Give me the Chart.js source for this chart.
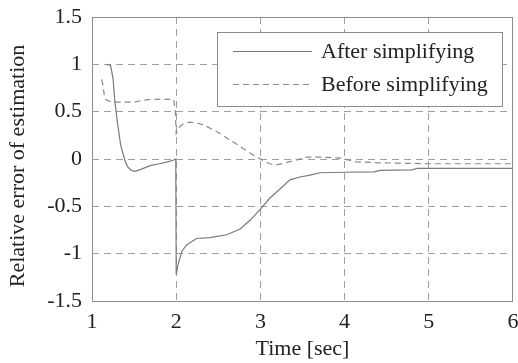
<!DOCTYPE html>
<html>
<head>
<meta charset="utf-8">
<script src="https://cdn.jsdelivr.net/npm/chart.js@4"></script>
<style>
  html, body { margin: 0; padding: 0; background: #fff; }
  #box { width: 518px; height: 363px; }
</style>
</head>
<body>
<div id="box"><canvas id="c"></canvas></div>
<script>
// values
const afterT = [1.17, 1.22, 1.25, 1.27, 1.30, 1.34, 1.37, 1.40, 1.43, 1.47, 1.51, 1.58, 1.69, 1.80, 1.90, 1.97, 1.995,
  2.0, 2.02, 2.065, 2.12, 2.24, 2.40, 2.60, 2.76, 2.88, 2.99, 3.11, 3.23, 3.35, 3.47, 3.59, 3.71, 4.0, 4.35, 4.42, 4.8, 4.86, 6.0];
const afterV = [1.0, 0.99, 0.85, 0.62, 0.40, 0.15, 0.05, -0.04, -0.09, -0.12, -0.13, -0.11, -0.07, -0.05, -0.03, -0.01, 0.0,
  -1.22, -1.12, -0.98, -0.91, -0.84, -0.83, -0.80, -0.74, -0.645, -0.54, -0.415, -0.32, -0.22, -0.19, -0.17, -0.145, -0.14, -0.135, -0.12, -0.115, -0.1, -0.1];

const beforeT = [1.115, 1.13, 1.145, 1.16, 1.2, 1.3, 1.5, 1.6, 1.7, 1.97, 1.99, 2.0, 2.03, 2.08, 2.16, 2.25, 2.35, 2.5, 2.64,
  2.78, 2.92, 3.0, 3.11, 3.2, 3.3, 3.43, 3.55, 3.7, 3.95, 4.14, 4.4, 5.0, 6.0];
const beforeV = [0.84, 0.78, 0.68, 0.63, 0.61, 0.6, 0.6, 0.62, 0.63, 0.63, 0.5, 0.27, 0.33, 0.37, 0.39, 0.38, 0.35, 0.28, 0.2,
  0.12, 0.04, 0.0, -0.05, -0.06, -0.04, -0.01, 0.02, 0.02, 0.01, -0.03, -0.04, -0.05, -0.05];

const seriesNames = ["After simplifying", "Before simplifying"];
const xTicks = [1, 2, 3, 4, 5, 6];
const yTicks = [-1.5, -1, -0.5, 0, 0.5, 1, 1.5];
const yTitle = "Relative error of estimation";

const serif = "'Liberation Serif', 'Times New Roman', serif";
const gridColor = "#a0a0a0";

const toPoints = (ts, vs) => ts.map((t, i) => ({ x: t, y: vs[i] }));

// grid lines at the ends are hidden, the frame is drawn instead
const innerGrid = (ctx) => {
  const s = ctx.scale;
  if (!ctx.tick) return gridColor;
  return (ctx.tick.value === s.min || ctx.tick.value === s.max) ? "rgba(0,0,0,0)" : gridColor;
};

// frame, legend box and y title
const framePlugin = {
  id: "frame",
  afterDatasetsDraw(chart) {
    const { ctx, chartArea: a } = chart;
    ctx.save();
    // legend
    const bx = a.right - 296, by = a.top + 15, bw = 285, bh = 74;
    ctx.fillStyle = "#fff";
    ctx.fillRect(bx, by, bw, bh);
    ctx.strokeStyle = "#8c8c8c";
    ctx.lineWidth = 1;
    ctx.strokeRect(bx + 0.5, by + 0.5, bw, bh);
    const rows = [by + 19, by + 52];
    const styles = [[], [6, 4]];
    const colors = ["#7a7a7a", "#8a8a8a"];
    rows.forEach((y, i) => {
      ctx.beginPath();
      ctx.setLineDash(styles[i]);
      ctx.strokeStyle = colors[i];
      ctx.lineWidth = 1.2;
      ctx.moveTo(bx + 16, y + 0.5);
      ctx.lineTo(bx + 95, y + 0.5);
      ctx.stroke();
      ctx.setLineDash([]);
      ctx.fillStyle = "#222";
      ctx.font = "22px " + serif;
      ctx.textBaseline = "middle";
      ctx.textAlign = "left";
      ctx.fillText(seriesNames[i], bx + 104, y + 1);
    });
    // frame
    ctx.strokeStyle = "#8c8c8c";
    ctx.lineWidth = 1;
    ctx.strokeRect(a.left + 0.5, a.top + 0.5, a.right - a.left - 1, a.bottom - a.top);
    // y title
    ctx.translate(18, (a.top + a.bottom) / 2 + 7);
    ctx.rotate(-Math.PI / 2);
    ctx.fillStyle = "#222";
    ctx.font = "22px " + serif;
    ctx.textAlign = "center";
    ctx.textBaseline = "middle";
    ctx.fillText(yTitle, 0, 0);
    ctx.restore();
  }
};

new Chart(document.getElementById("c"), {
  type: "line",
  data: {
    datasets: [
      {
        label: seriesNames[0],
        data: toPoints(afterT, afterV),
        borderColor: "#7a7a7a",
        borderWidth: 1.2,
        pointRadius: 0,
        tension: 0,
        fill: false
      },
      {
        label: seriesNames[1],
        data: toPoints(beforeT, beforeV),
        borderColor: "#8a8a8a",
        borderWidth: 1.2,
        borderDash: [6, 4],
        pointRadius: 0,
        tension: 0,
        fill: false
      }
    ]
  },
  options: {
    responsive: true,
    maintainAspectRatio: false,
    animation: false,
    layout: { padding: { top: 17, right: 5, left: 0, bottom: 0 } },
    plugins: {
      legend: { display: false },
      tooltip: { enabled: false }
    },
    scales: {
      x: {
        type: "linear",
        min: 1,
        max: 6,
        afterBuildTicks: (s) => { s.ticks = xTicks.map(v => ({ value: v })); },
        afterFit: (s) => { s.height = 62; s.paddingLeft = 0; s.paddingRight = 0; },
        grid: { color: innerGrid, drawTicks: false, lineWidth: 1 },
        border: { display: false, dash: [7, 5] },
        ticks: {
          color: "#222",
          padding: 8,
          font: { family: serif, size: 22 },
          callback: (v) => String(v)
        },
        title: {
          display: true,
          text: "Time [sec]",
          color: "#222",
          font: { family: serif, size: 22 },
          padding: { top: 0, bottom: 1 }
        }
      },
      y: {
        type: "linear",
        min: -1.5,
        max: 1.5,
        afterBuildTicks: (s) => { s.ticks = yTicks.map(v => ({ value: v })); },
        afterFit: (s) => { s.width = 92; s.paddingTop = 0; s.paddingBottom = 0; },
        grid: { color: innerGrid, drawTicks: false, lineWidth: 1 },
        border: { display: false, dash: [7, 5] },
        ticks: {
          color: "#222",
          padding: 10,
          font: { family: serif, size: 22 },
          callback: (v) => String(v)
        },
        title: { display: false }
      }
    }
  },
  plugins: [framePlugin]
});
</script>
</body>
</html>
